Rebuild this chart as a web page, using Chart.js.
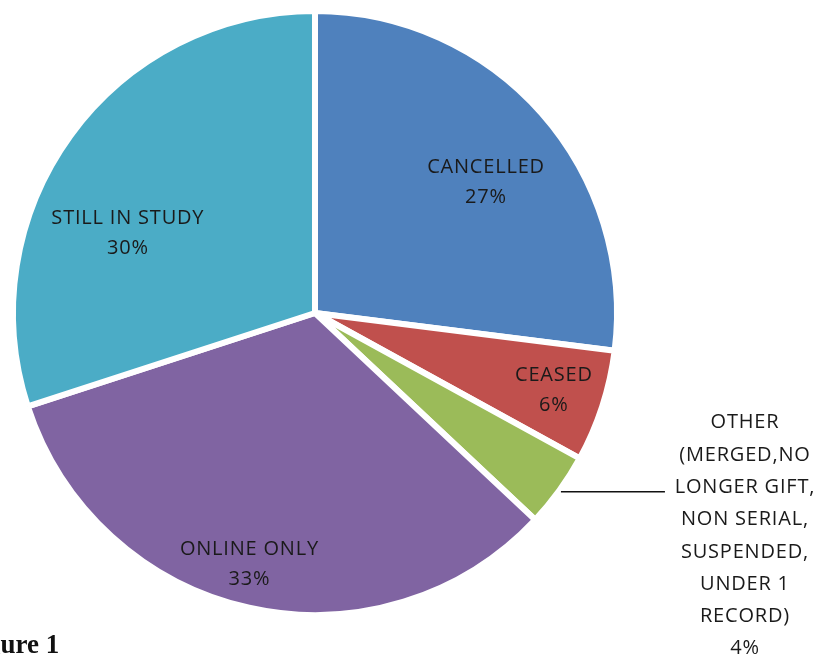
<!DOCTYPE html>
<html><head><meta charset="utf-8">
<script src="https://cdn.jsdelivr.net/npm/chart.js@4/dist/chart.umd.min.js"></script>
<style>
html,body{margin:0;padding:0;background:#fff;overflow:hidden;}
#wrap{position:relative;width:822px;height:654px;overflow:hidden;}
#fig{position:absolute;left:-37px;top:629px;font:bold 27px "Liberation Serif",serif;color:#111;white-space:nowrap;line-height:30px;}
</style></head><body>
<div id="wrap"><canvas id="c" width="822" height="654"></canvas><div id="fig">Figure 1</div></div>
<script>
const categories = ["CANCELLED", "CEASED", "OTHER (MERGED,NO LONGER GIFT, NON SERIAL, SUSPENDED, UNDER 1 RECORD)", "ONLINE ONLY", "STILL IN STUDY"];
const values = [27, 6, 4, 33, 30];
const labelLines = [["CANCELLED"], ["CEASED"], ["OTHER", "(MERGED,NO", "LONGER GIFT,", "NON SERIAL,", "SUSPENDED,", "UNDER 1", "RECORD)"], ["ONLINE ONLY"], ["STILL IN STUDY"]];
const colors = ["#4F81BD", "#C0504D", "#9BBB59", "#8064A2", "#4BACC6"];

// label placement: fraction of radius and angle tweak (degrees); OTHER is placed outside with a leader line
const placement = [{f:0.72,da:4},{f:0.84,da:0},{outside:true},{f:0.87,da:2},{f:0.68,da:-13}];

const labelPlugin = {
  id: 'pieLabels',
  afterDatasetsDraw(chart) {
    const ctx = chart.ctx;
    const meta = chart.getDatasetMeta(0);
    ctx.save();
    ctx.font = '20px "Open Sans"';
    ctx.letterSpacing = '0.8px';
    ctx.fillStyle = '#1a1a1a';
    ctx.textAlign = 'center';
    ctx.textBaseline = 'middle';
    meta.data.forEach((arc, i) => {
      const p = arc.getProps(['x','y','startAngle','endAngle','outerRadius'], true);
      const mid = (p.startAngle + p.endAngle) / 2;
      const R = p.outerRadius - 3;
      const lines = labelLines[i].concat([values[i] + '%']);
      const pl = placement[i];
      if (pl.outside) {
        const ex = p.x + Math.cos(mid) * (R + 5);
        const ey = p.y + Math.sin(mid) * (R + 5);
        const lx = ex + 104;
        ctx.strokeStyle = '#111';
        ctx.lineWidth = 1.5;
        ctx.beginPath(); ctx.moveTo(ex, ey); ctx.lineTo(lx, ey); ctx.stroke();
        const cx = lx + 80;
        const lh = 32.3;
        lines.forEach((t, k) => ctx.fillText(t, cx, ey - 69 + lh * k));
      } else {
        const a = mid + pl.da * Math.PI / 180;
        const cx = p.x + Math.cos(a) * R * pl.f;
        const cy = p.y + Math.sin(a) * R * pl.f;
        const lh = 30;
        const y0 = cy - lh * (lines.length - 1) / 2;
        lines.forEach((t, k) => ctx.fillText(t, cx, y0 + lh * k));
      }
    });
    ctx.restore();
  }
};

new Chart(document.getElementById('c'), {
  type: 'pie',
  data: {
    labels: categories,
    datasets: [{
      data: values,
      backgroundColor: colors,
      borderColor: '#ffffff',
      borderWidth: 6
    }]
  },
  options: {
    responsive: false,
    animation: false,
    layout: { padding: { left: 10, right: 202, top: 8, bottom: 36 } },
    plugins: { legend: { display: false }, tooltip: { enabled: false } }
  },
  plugins: [labelPlugin]
});
</script>
</body></html>
